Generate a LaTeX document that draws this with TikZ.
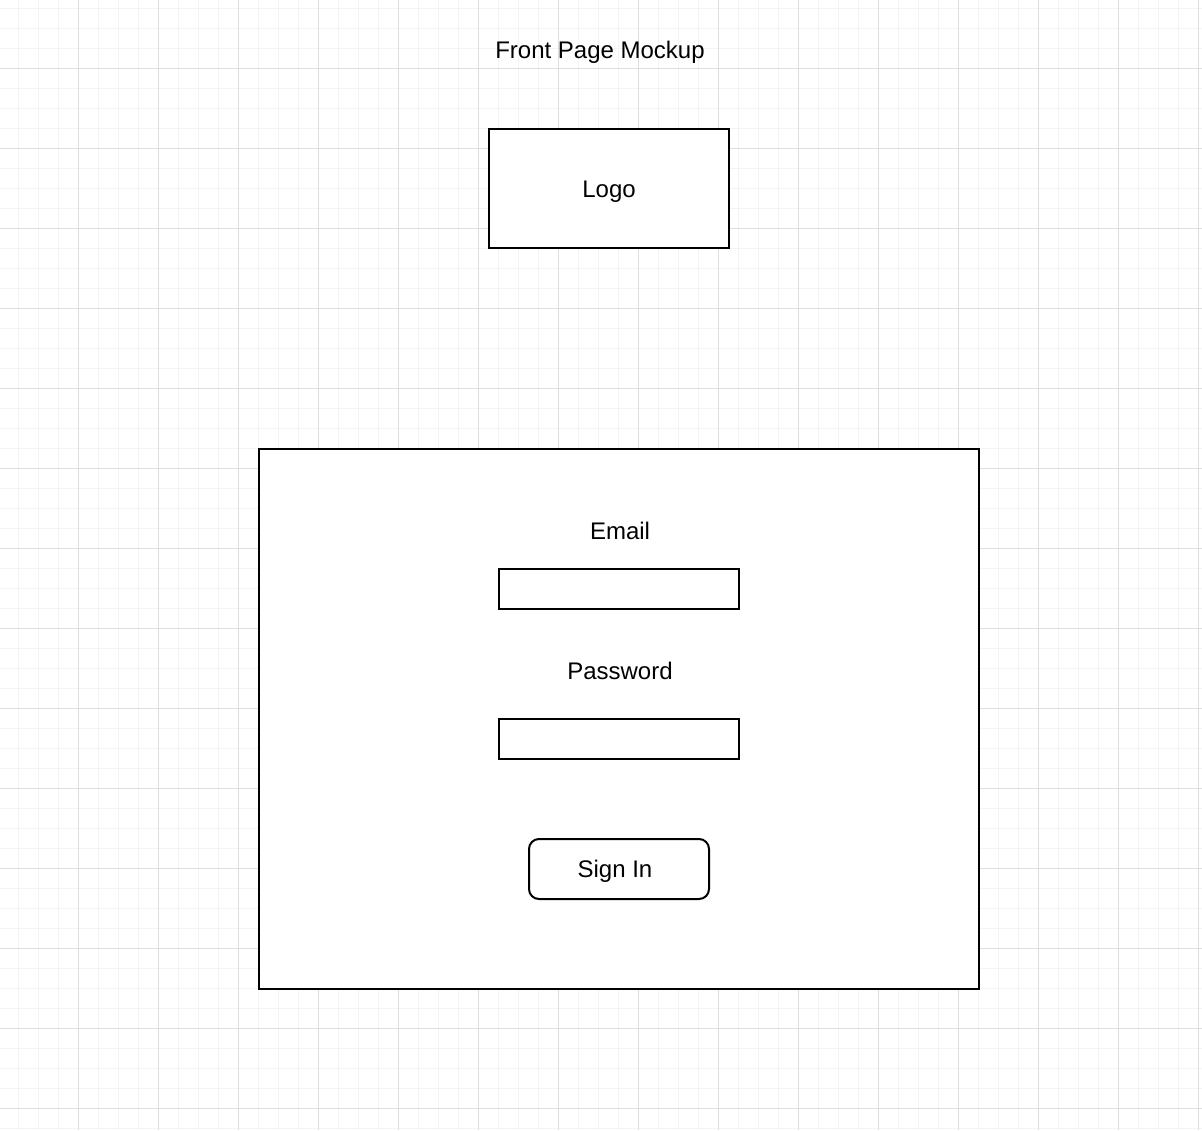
\documentclass[tikz,border=0pt]{standalone}
\usepackage{fontspec}
\setmainfont{Liberation Sans}
\definecolor{gridminor}{HTML}{F4F4F4}
\definecolor{gridmajor}{HTML}{DEDEDE}
\begin{document}
\begin{tikzpicture}[x=1pt,y=-1pt,
  box/.style={draw=black,line width=2pt,fill=white},
  lbl/.style={font=\fontsize{24}{28}\selectfont,inner sep=0pt,anchor=center}]
\useasboundingbox[fill=white] (0,0) rectangle (1202,1130);
% background grid
\foreach \x in {18.5,38.5,...,1200} \draw[gridminor,line width=1pt] (\x,0) -- (\x,1130);
\foreach \y in {8.5,28.5,...,1130} \draw[gridminor,line width=1pt] (0,\y) -- (1202,\y);
\foreach \x in {78.5,158.5,...,1200} \draw[gridmajor,line width=1pt] (\x,0) -- (\x,1130);
\foreach \y in {68.5,148.5,...,1130} \draw[gridmajor,line width=1pt] (0,\y) -- (1202,\y);
% title
\node[lbl] (title) at (600,52) {Front Page Mockup};
% logo
\draw[box] (489,129) rectangle (729,248);
\node[lbl] (logo) at (609,192) {Logo};
% login panel
\draw[box] (259,449) rectangle (979,989);
\node[lbl] (email) at (620,531) {Email};
\draw[box] (499,569) rectangle (739,609);
\node[lbl] (password) at (620,671) {Password};
\draw[box] (499,719) rectangle (739,759);
\draw[box,rounded corners=10pt] (529,839) rectangle (709,899);
\node[lbl] (signin) at (615,871) {Sign In};
\end{tikzpicture}
\end{document}
